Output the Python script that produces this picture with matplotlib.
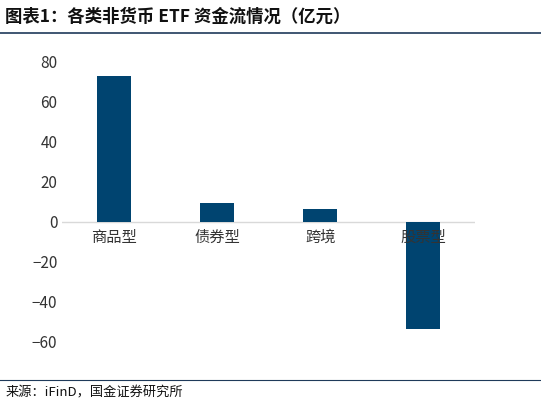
import matplotlib
matplotlib.use("Agg")
import matplotlib.pyplot as plt
from matplotlib.lines import Line2D

plt.rcParams['font.family'] = ['Noto Sans CJK SC', 'DejaVu Sans']

categories = ['商品型', '债券型', '跨境', '股票型']
values = [73, 9.5, 6.5, -53.5]
yticks = [-60, -40, -20, 0, 20, 40, 60, 80]

fig = plt.figure(figsize=(5.41, 4.05), dpi=100)
ax = fig.add_axes([0.115, 0.156, 0.763, 0.691])
x = range(len(categories))
ax.bar(x, values, width=0.33, color='#004470', zorder=2)
ax.set_ylim(-60, 80)
ax.set_xlim(-0.5, 3.5)
ax.set_yticks(yticks)
ax.tick_params(axis='y', length=0, labelsize=11, colors='#333333')
ax.set_xticks([])
for s in ax.spines.values():
    s.set_visible(False)
ax.axhline(0, color='#d9d9d9', lw=1, zorder=1)
for i, c in enumerate(categories):
    ax.text(i, -3.5, c, ha='center', va='top', fontsize=11, color='#333333')

fig.text(0.01, 0.958, '图表1：各类非货币 ETF 资金流情况（亿元）', fontsize=12.5,
         fontweight='bold', style='italic', color='#111111', va='center')
fig.add_artist(Line2D([0, 1], [0.918, 0.918], color='#1f3a5a', lw=1.2))
fig.add_artist(Line2D([0, 1], [0.062, 0.062], color='#1f3a5a', lw=0.8))
fig.text(0.01, 0.03, '来源：iFinD，国金证券研究所', fontsize=9.5, color='#111111', va='center')

fig.savefig('out.png', dpi=100)
